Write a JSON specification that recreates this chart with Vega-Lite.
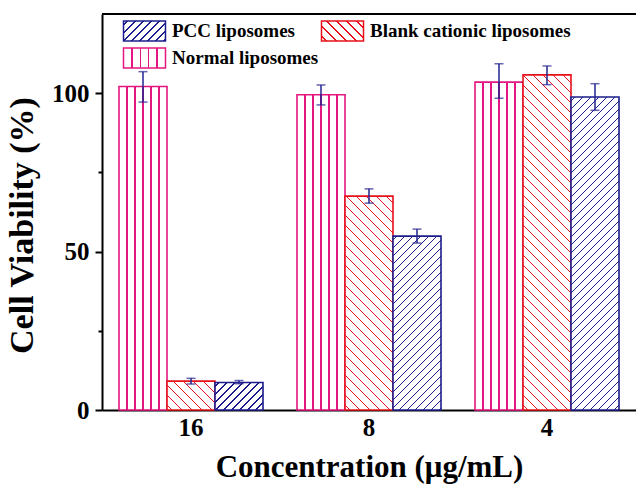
{
"$schema":"https://vega.github.io/schema/vega-lite/v6.json",
"width":534,"height":396,
"autosize":{"type":"none"},
"padding":{"left":102,"top":14,"right":0,"bottom":77},
"background":"white",
"config":{"view":{"stroke":null},"font":"Liberation Serif"},
"params":[
{"name":"redStops","value":[{"offset":0,"color":"#fff"},
{"offset":0.0102,"color":"#fff"},{"offset":0.0102,"color":"#e8101a"},{"offset":0.0148,"color":"#e8101a"},{"offset":0.0148,"color":"#fff"},
{"offset":0.0352,"color":"#fff"},{"offset":0.0352,"color":"#e8101a"},{"offset":0.0398,"color":"#e8101a"},{"offset":0.0398,"color":"#fff"},
{"offset":0.0602,"color":"#fff"},{"offset":0.0602,"color":"#e8101a"},{"offset":0.0648,"color":"#e8101a"},{"offset":0.0648,"color":"#fff"},
{"offset":0.0852,"color":"#fff"},{"offset":0.0852,"color":"#e8101a"},{"offset":0.0898,"color":"#e8101a"},{"offset":0.0898,"color":"#fff"},
{"offset":0.1102,"color":"#fff"},{"offset":0.1102,"color":"#e8101a"},{"offset":0.1148,"color":"#e8101a"},{"offset":0.1148,"color":"#fff"},
{"offset":0.1352,"color":"#fff"},{"offset":0.1352,"color":"#e8101a"},{"offset":0.1398,"color":"#e8101a"},{"offset":0.1398,"color":"#fff"},
{"offset":0.1602,"color":"#fff"},{"offset":0.1602,"color":"#e8101a"},{"offset":0.1648,"color":"#e8101a"},{"offset":0.1648,"color":"#fff"},
{"offset":0.1852,"color":"#fff"},{"offset":0.1852,"color":"#e8101a"},{"offset":0.1898,"color":"#e8101a"},{"offset":0.1898,"color":"#fff"},
{"offset":0.2102,"color":"#fff"},{"offset":0.2102,"color":"#e8101a"},{"offset":0.2148,"color":"#e8101a"},{"offset":0.2148,"color":"#fff"},
{"offset":0.2352,"color":"#fff"},{"offset":0.2352,"color":"#e8101a"},{"offset":0.2398,"color":"#e8101a"},{"offset":0.2398,"color":"#fff"},
{"offset":0.2602,"color":"#fff"},{"offset":0.2602,"color":"#e8101a"},{"offset":0.2648,"color":"#e8101a"},{"offset":0.2648,"color":"#fff"},
{"offset":0.2852,"color":"#fff"},{"offset":0.2852,"color":"#e8101a"},{"offset":0.2898,"color":"#e8101a"},{"offset":0.2898,"color":"#fff"},
{"offset":0.3102,"color":"#fff"},{"offset":0.3102,"color":"#e8101a"},{"offset":0.3148,"color":"#e8101a"},{"offset":0.3148,"color":"#fff"},
{"offset":0.3352,"color":"#fff"},{"offset":0.3352,"color":"#e8101a"},{"offset":0.3398,"color":"#e8101a"},{"offset":0.3398,"color":"#fff"},
{"offset":0.3602,"color":"#fff"},{"offset":0.3602,"color":"#e8101a"},{"offset":0.3648,"color":"#e8101a"},{"offset":0.3648,"color":"#fff"},
{"offset":0.3852,"color":"#fff"},{"offset":0.3852,"color":"#e8101a"},{"offset":0.3898,"color":"#e8101a"},{"offset":0.3898,"color":"#fff"},
{"offset":0.4102,"color":"#fff"},{"offset":0.4102,"color":"#e8101a"},{"offset":0.4148,"color":"#e8101a"},{"offset":0.4148,"color":"#fff"},
{"offset":0.4352,"color":"#fff"},{"offset":0.4352,"color":"#e8101a"},{"offset":0.4398,"color":"#e8101a"},{"offset":0.4398,"color":"#fff"},
{"offset":0.4602,"color":"#fff"},{"offset":0.4602,"color":"#e8101a"},{"offset":0.4648,"color":"#e8101a"},{"offset":0.4648,"color":"#fff"},
{"offset":0.4852,"color":"#fff"},{"offset":0.4852,"color":"#e8101a"},{"offset":0.4898,"color":"#e8101a"},{"offset":0.4898,"color":"#fff"},
{"offset":0.5102,"color":"#fff"},{"offset":0.5102,"color":"#e8101a"},{"offset":0.5148,"color":"#e8101a"},{"offset":0.5148,"color":"#fff"},
{"offset":0.5352,"color":"#fff"},{"offset":0.5352,"color":"#e8101a"},{"offset":0.5398,"color":"#e8101a"},{"offset":0.5398,"color":"#fff"},
{"offset":0.5602,"color":"#fff"},{"offset":0.5602,"color":"#e8101a"},{"offset":0.5648,"color":"#e8101a"},{"offset":0.5648,"color":"#fff"},
{"offset":0.5852,"color":"#fff"},{"offset":0.5852,"color":"#e8101a"},{"offset":0.5898,"color":"#e8101a"},{"offset":0.5898,"color":"#fff"},
{"offset":0.6102,"color":"#fff"},{"offset":0.6102,"color":"#e8101a"},{"offset":0.6148,"color":"#e8101a"},{"offset":0.6148,"color":"#fff"},
{"offset":0.6352,"color":"#fff"},{"offset":0.6352,"color":"#e8101a"},{"offset":0.6398,"color":"#e8101a"},{"offset":0.6398,"color":"#fff"},
{"offset":0.6602,"color":"#fff"},{"offset":0.6602,"color":"#e8101a"},{"offset":0.6648,"color":"#e8101a"},{"offset":0.6648,"color":"#fff"},
{"offset":0.6852,"color":"#fff"},{"offset":0.6852,"color":"#e8101a"},{"offset":0.6898,"color":"#e8101a"},{"offset":0.6898,"color":"#fff"},
{"offset":0.7102,"color":"#fff"},{"offset":0.7102,"color":"#e8101a"},{"offset":0.7148,"color":"#e8101a"},{"offset":0.7148,"color":"#fff"},
{"offset":0.7352,"color":"#fff"},{"offset":0.7352,"color":"#e8101a"},{"offset":0.7398,"color":"#e8101a"},{"offset":0.7398,"color":"#fff"},
{"offset":0.7602,"color":"#fff"},{"offset":0.7602,"color":"#e8101a"},{"offset":0.7648,"color":"#e8101a"},{"offset":0.7648,"color":"#fff"},
{"offset":0.7852,"color":"#fff"},{"offset":0.7852,"color":"#e8101a"},{"offset":0.7898,"color":"#e8101a"},{"offset":0.7898,"color":"#fff"},
{"offset":0.8102,"color":"#fff"},{"offset":0.8102,"color":"#e8101a"},{"offset":0.8148,"color":"#e8101a"},{"offset":0.8148,"color":"#fff"},
{"offset":0.8352,"color":"#fff"},{"offset":0.8352,"color":"#e8101a"},{"offset":0.8398,"color":"#e8101a"},{"offset":0.8398,"color":"#fff"},
{"offset":0.8602,"color":"#fff"},{"offset":0.8602,"color":"#e8101a"},{"offset":0.8648,"color":"#e8101a"},{"offset":0.8648,"color":"#fff"},
{"offset":0.8852,"color":"#fff"},{"offset":0.8852,"color":"#e8101a"},{"offset":0.8898,"color":"#e8101a"},{"offset":0.8898,"color":"#fff"},
{"offset":0.9102,"color":"#fff"},{"offset":0.9102,"color":"#e8101a"},{"offset":0.9148,"color":"#e8101a"},{"offset":0.9148,"color":"#fff"},
{"offset":0.9352,"color":"#fff"},{"offset":0.9352,"color":"#e8101a"},{"offset":0.9398,"color":"#e8101a"},{"offset":0.9398,"color":"#fff"},
{"offset":0.9602,"color":"#fff"},{"offset":0.9602,"color":"#e8101a"},{"offset":0.9648,"color":"#e8101a"},{"offset":0.9648,"color":"#fff"},
{"offset":0.9852,"color":"#fff"},{"offset":0.9852,"color":"#e8101a"},{"offset":0.9898,"color":"#e8101a"},{"offset":0.9898,"color":"#fff"},
{"offset":1,"color":"#fff"}]},
{"name":"blueStops","value":[{"offset":0,"color":"#fff"},
{"offset":0.0077,"color":"#fff"},{"offset":0.0077,"color":"#1c1c8c"},{"offset":0.0123,"color":"#1c1c8c"},{"offset":0.0123,"color":"#fff"},
{"offset":0.0277,"color":"#fff"},{"offset":0.0277,"color":"#1c1c8c"},{"offset":0.0323,"color":"#1c1c8c"},{"offset":0.0323,"color":"#fff"},
{"offset":0.0477,"color":"#fff"},{"offset":0.0477,"color":"#1c1c8c"},{"offset":0.0523,"color":"#1c1c8c"},{"offset":0.0523,"color":"#fff"},
{"offset":0.0677,"color":"#fff"},{"offset":0.0677,"color":"#1c1c8c"},{"offset":0.0723,"color":"#1c1c8c"},{"offset":0.0723,"color":"#fff"},
{"offset":0.0877,"color":"#fff"},{"offset":0.0877,"color":"#1c1c8c"},{"offset":0.0923,"color":"#1c1c8c"},{"offset":0.0923,"color":"#fff"},
{"offset":0.1077,"color":"#fff"},{"offset":0.1077,"color":"#1c1c8c"},{"offset":0.1123,"color":"#1c1c8c"},{"offset":0.1123,"color":"#fff"},
{"offset":0.1277,"color":"#fff"},{"offset":0.1277,"color":"#1c1c8c"},{"offset":0.1323,"color":"#1c1c8c"},{"offset":0.1323,"color":"#fff"},
{"offset":0.1477,"color":"#fff"},{"offset":0.1477,"color":"#1c1c8c"},{"offset":0.1523,"color":"#1c1c8c"},{"offset":0.1523,"color":"#fff"},
{"offset":0.1677,"color":"#fff"},{"offset":0.1677,"color":"#1c1c8c"},{"offset":0.1723,"color":"#1c1c8c"},{"offset":0.1723,"color":"#fff"},
{"offset":0.1877,"color":"#fff"},{"offset":0.1877,"color":"#1c1c8c"},{"offset":0.1923,"color":"#1c1c8c"},{"offset":0.1923,"color":"#fff"},
{"offset":0.2077,"color":"#fff"},{"offset":0.2077,"color":"#1c1c8c"},{"offset":0.2123,"color":"#1c1c8c"},{"offset":0.2123,"color":"#fff"},
{"offset":0.2277,"color":"#fff"},{"offset":0.2277,"color":"#1c1c8c"},{"offset":0.2323,"color":"#1c1c8c"},{"offset":0.2323,"color":"#fff"},
{"offset":0.2477,"color":"#fff"},{"offset":0.2477,"color":"#1c1c8c"},{"offset":0.2523,"color":"#1c1c8c"},{"offset":0.2523,"color":"#fff"},
{"offset":0.2677,"color":"#fff"},{"offset":0.2677,"color":"#1c1c8c"},{"offset":0.2723,"color":"#1c1c8c"},{"offset":0.2723,"color":"#fff"},
{"offset":0.2877,"color":"#fff"},{"offset":0.2877,"color":"#1c1c8c"},{"offset":0.2923,"color":"#1c1c8c"},{"offset":0.2923,"color":"#fff"},
{"offset":0.3077,"color":"#fff"},{"offset":0.3077,"color":"#1c1c8c"},{"offset":0.3123,"color":"#1c1c8c"},{"offset":0.3123,"color":"#fff"},
{"offset":0.3277,"color":"#fff"},{"offset":0.3277,"color":"#1c1c8c"},{"offset":0.3323,"color":"#1c1c8c"},{"offset":0.3323,"color":"#fff"},
{"offset":0.3477,"color":"#fff"},{"offset":0.3477,"color":"#1c1c8c"},{"offset":0.3523,"color":"#1c1c8c"},{"offset":0.3523,"color":"#fff"},
{"offset":0.3677,"color":"#fff"},{"offset":0.3677,"color":"#1c1c8c"},{"offset":0.3723,"color":"#1c1c8c"},{"offset":0.3723,"color":"#fff"},
{"offset":0.3877,"color":"#fff"},{"offset":0.3877,"color":"#1c1c8c"},{"offset":0.3923,"color":"#1c1c8c"},{"offset":0.3923,"color":"#fff"},
{"offset":0.4077,"color":"#fff"},{"offset":0.4077,"color":"#1c1c8c"},{"offset":0.4123,"color":"#1c1c8c"},{"offset":0.4123,"color":"#fff"},
{"offset":0.4277,"color":"#fff"},{"offset":0.4277,"color":"#1c1c8c"},{"offset":0.4323,"color":"#1c1c8c"},{"offset":0.4323,"color":"#fff"},
{"offset":0.4477,"color":"#fff"},{"offset":0.4477,"color":"#1c1c8c"},{"offset":0.4523,"color":"#1c1c8c"},{"offset":0.4523,"color":"#fff"},
{"offset":0.4677,"color":"#fff"},{"offset":0.4677,"color":"#1c1c8c"},{"offset":0.4723,"color":"#1c1c8c"},{"offset":0.4723,"color":"#fff"},
{"offset":0.4877,"color":"#fff"},{"offset":0.4877,"color":"#1c1c8c"},{"offset":0.4923,"color":"#1c1c8c"},{"offset":0.4923,"color":"#fff"},
{"offset":0.5077,"color":"#fff"},{"offset":0.5077,"color":"#1c1c8c"},{"offset":0.5123,"color":"#1c1c8c"},{"offset":0.5123,"color":"#fff"},
{"offset":0.5277,"color":"#fff"},{"offset":0.5277,"color":"#1c1c8c"},{"offset":0.5323,"color":"#1c1c8c"},{"offset":0.5323,"color":"#fff"},
{"offset":0.5477,"color":"#fff"},{"offset":0.5477,"color":"#1c1c8c"},{"offset":0.5523,"color":"#1c1c8c"},{"offset":0.5523,"color":"#fff"},
{"offset":0.5677,"color":"#fff"},{"offset":0.5677,"color":"#1c1c8c"},{"offset":0.5723,"color":"#1c1c8c"},{"offset":0.5723,"color":"#fff"},
{"offset":0.5877,"color":"#fff"},{"offset":0.5877,"color":"#1c1c8c"},{"offset":0.5923,"color":"#1c1c8c"},{"offset":0.5923,"color":"#fff"},
{"offset":0.6077,"color":"#fff"},{"offset":0.6077,"color":"#1c1c8c"},{"offset":0.6123,"color":"#1c1c8c"},{"offset":0.6123,"color":"#fff"},
{"offset":0.6277,"color":"#fff"},{"offset":0.6277,"color":"#1c1c8c"},{"offset":0.6323,"color":"#1c1c8c"},{"offset":0.6323,"color":"#fff"},
{"offset":0.6477,"color":"#fff"},{"offset":0.6477,"color":"#1c1c8c"},{"offset":0.6523,"color":"#1c1c8c"},{"offset":0.6523,"color":"#fff"},
{"offset":0.6677,"color":"#fff"},{"offset":0.6677,"color":"#1c1c8c"},{"offset":0.6723,"color":"#1c1c8c"},{"offset":0.6723,"color":"#fff"},
{"offset":0.6877,"color":"#fff"},{"offset":0.6877,"color":"#1c1c8c"},{"offset":0.6923,"color":"#1c1c8c"},{"offset":0.6923,"color":"#fff"},
{"offset":0.7077,"color":"#fff"},{"offset":0.7077,"color":"#1c1c8c"},{"offset":0.7123,"color":"#1c1c8c"},{"offset":0.7123,"color":"#fff"},
{"offset":0.7277,"color":"#fff"},{"offset":0.7277,"color":"#1c1c8c"},{"offset":0.7323,"color":"#1c1c8c"},{"offset":0.7323,"color":"#fff"},
{"offset":0.7477,"color":"#fff"},{"offset":0.7477,"color":"#1c1c8c"},{"offset":0.7523,"color":"#1c1c8c"},{"offset":0.7523,"color":"#fff"},
{"offset":0.7677,"color":"#fff"},{"offset":0.7677,"color":"#1c1c8c"},{"offset":0.7723,"color":"#1c1c8c"},{"offset":0.7723,"color":"#fff"},
{"offset":0.7877,"color":"#fff"},{"offset":0.7877,"color":"#1c1c8c"},{"offset":0.7923,"color":"#1c1c8c"},{"offset":0.7923,"color":"#fff"},
{"offset":0.8077,"color":"#fff"},{"offset":0.8077,"color":"#1c1c8c"},{"offset":0.8123,"color":"#1c1c8c"},{"offset":0.8123,"color":"#fff"},
{"offset":0.8277,"color":"#fff"},{"offset":0.8277,"color":"#1c1c8c"},{"offset":0.8323,"color":"#1c1c8c"},{"offset":0.8323,"color":"#fff"},
{"offset":0.8477,"color":"#fff"},{"offset":0.8477,"color":"#1c1c8c"},{"offset":0.8523,"color":"#1c1c8c"},{"offset":0.8523,"color":"#fff"},
{"offset":0.8677,"color":"#fff"},{"offset":0.8677,"color":"#1c1c8c"},{"offset":0.8723,"color":"#1c1c8c"},{"offset":0.8723,"color":"#fff"},
{"offset":0.8877,"color":"#fff"},{"offset":0.8877,"color":"#1c1c8c"},{"offset":0.8923,"color":"#1c1c8c"},{"offset":0.8923,"color":"#fff"},
{"offset":0.9077,"color":"#fff"},{"offset":0.9077,"color":"#1c1c8c"},{"offset":0.9123,"color":"#1c1c8c"},{"offset":0.9123,"color":"#fff"},
{"offset":0.9277,"color":"#fff"},{"offset":0.9277,"color":"#1c1c8c"},{"offset":0.9323,"color":"#1c1c8c"},{"offset":0.9323,"color":"#fff"},
{"offset":0.9477,"color":"#fff"},{"offset":0.9477,"color":"#1c1c8c"},{"offset":0.9523,"color":"#1c1c8c"},{"offset":0.9523,"color":"#fff"},
{"offset":0.9677,"color":"#fff"},{"offset":0.9677,"color":"#1c1c8c"},{"offset":0.9723,"color":"#1c1c8c"},{"offset":0.9723,"color":"#fff"},
{"offset":0.9877,"color":"#fff"},{"offset":0.9877,"color":"#1c1c8c"},{"offset":0.9923,"color":"#1c1c8c"},{"offset":0.9923,"color":"#fff"},
{"offset":1,"color":"#fff"}]},
{"name":"pinkStops","value":[{"offset":0,"color":"#fff"},
{"offset":0.1497,"color":"#fff"},{"offset":0.1497,"color":"#e3177f"},{"offset":0.1837,"color":"#e3177f"},{"offset":0.1837,"color":"#fff"},
{"offset":0.3163,"color":"#fff"},{"offset":0.3163,"color":"#e3177f"},{"offset":0.3503,"color":"#e3177f"},{"offset":0.3503,"color":"#fff"},
{"offset":0.483,"color":"#fff"},{"offset":0.483,"color":"#e3177f"},{"offset":0.517,"color":"#e3177f"},{"offset":0.517,"color":"#fff"},
{"offset":0.6497,"color":"#fff"},{"offset":0.6497,"color":"#e3177f"},{"offset":0.6837,"color":"#e3177f"},{"offset":0.6837,"color":"#fff"},
{"offset":0.8163,"color":"#fff"},{"offset":0.8163,"color":"#e3177f"},{"offset":0.8503,"color":"#e3177f"},{"offset":0.8503,"color":"#fff"},
{"offset":1,"color":"#fff"}]},
{"name":"pinkLegendStops","value":[{"offset":0,"color":"#fff"},
{"offset":0.182,"color":"#fff"},{"offset":0.182,"color":"#e3177f"},{"offset":0.218,"color":"#e3177f"},{"offset":0.218,"color":"#fff"},
{"offset":0.382,"color":"#fff"},{"offset":0.382,"color":"#e3177f"},{"offset":0.418,"color":"#e3177f"},{"offset":0.418,"color":"#fff"},
{"offset":0.582,"color":"#fff"},{"offset":0.582,"color":"#e3177f"},{"offset":0.618,"color":"#e3177f"},{"offset":0.618,"color":"#fff"},
{"offset":0.782,"color":"#fff"},{"offset":0.782,"color":"#e3177f"},{"offset":0.818,"color":"#e3177f"},{"offset":0.818,"color":"#fff"},
{"offset":1,"color":"#fff"}]}
],
"data":{"values":[
{"conc":"16","series":"Normal liposomes","value":102.1,"lo":97.2,"hi":106.8},
{"conc":"16","series":"Blank cationic liposomes","value":9.1,"lo":8.2,"hi":10.0},
{"conc":"16","series":"PCC liposomes","value":8.7,"lo":8.3,"hi":9.3},
{"conc":"8","series":"Normal liposomes","value":99.5,"lo":96.3,"hi":102.6},
{"conc":"8","series":"Blank cationic liposomes","value":67.5,"lo":65.3,"hi":69.8},
{"conc":"8","series":"PCC liposomes","value":54.9,"lo":52.7,"hi":57.1},
{"conc":"4","series":"Normal liposomes","value":103.5,"lo":98.4,"hi":109.3},
{"conc":"4","series":"Blank cationic liposomes","value":105.8,"lo":102.7,"hi":108.6},
{"conc":"4","series":"PCC liposomes","value":98.8,"lo":94.6,"hi":103.0}
]},
"layer":[
{"mark":{"type":"bar","strokeWidth":1.6,
"fill":{"expr":"datum.series ? (datum.series == 'PCC liposomes' ? {gradient:'linear',x1:0,y1:0,x2:400*bandwidth('xOffset')/(pow(bandwidth('xOffset'),2)+pow(scale('y',0)-scale('y',datum.value),2)),y2:400*(scale('y',0)-scale('y',datum.value))/(pow(bandwidth('xOffset'),2)+pow(scale('y',0)-scale('y',datum.value),2)),stops:blueStops} : datum.series == 'Blank cationic liposomes' ? {gradient:'linear',x1:0,y1:1,x2:400*bandwidth('xOffset')/(pow(bandwidth('xOffset'),2)+pow(scale('y',0)-scale('y',datum.value),2)),y2:1-400*(scale('y',0)-scale('y',datum.value))/(pow(bandwidth('xOffset'),2)+pow(scale('y',0)-scale('y',datum.value),2)),stops:redStops} : {gradient:'linear',x1:0,y1:0,x2:1,y2:0,stops:pinkStops}) : (datum.value == 'PCC liposomes' ? {gradient:'linear',x1:0,y1:0,x2:7.7634,y2:3.6969,stops:blueStops} : datum.value == 'Blank cationic liposomes' ? {gradient:'linear',x1:0,y1:1,x2:7.7634,y2:-2.6969,stops:redStops} : {gradient:'linear',x1:0,y1:0,x2:1,y2:0,stops:pinkLegendStops})"}},
"encoding":{
"x":{"field":"conc","type":"nominal","sort":["16","8","4"],"title":"Concentration (μg/mL)","scale":{"paddingInner":0.191,"paddingOuter":0.0955},
"axis":{"labelAngle":0,"ticks":false,"domainColor":"black","domainWidth":2,"labelFont":"Liberation Serif","labelFontSize":25,"labelFontWeight":"bold","labelColor":"black","labelPadding":5,"titleFont":"Liberation Serif","titleFontSize":31,"titleFontWeight":"bold","titleColor":"black","titlePadding":12,"grid":false}},
"xOffset":{"field":"series","type":"nominal","sort":["Normal liposomes","Blank cationic liposomes","PCC liposomes"],"scale":{"paddingInner":0,"paddingOuter":0}},
"y":{"field":"value","type":"quantitative","stack":null,"title":"Cell Viability (%)","scale":{"domain":[0,125],"nice":false},
"axis":{"values":[0,25,50,75,100],"labelExpr":"datum.value % 50 == 0 ? datum.label : ''","tickSize":{"condition":{"test":"datum.value % 50 != 0","value":4},"value":7},"tickWidth":2,"tickColor":"black","domainColor":"black","domainWidth":2,"labelFont":"Liberation Serif","labelFontSize":25,"labelFontWeight":"bold","labelColor":"black","labelPadding":6,"titleFont":"Liberation Serif","titleFontSize":34,"titleFontWeight":"bold","titleColor":"black","titlePadding":12,"titleY":211,"grid":false}},
"stroke":{"field":"series","type":"nominal","scale":{"domain":["PCC liposomes","Blank cationic liposomes","Normal liposomes"],"range":["#1c1c8c","#e8101a","#e3177f"]},
"legend":{"orient":"none","legendX":31.5,"legendY":6,"direction":"horizontal","columns":2,"title":null,"padding":0,"symbolType":"M-2.1,-1H2.1V1H-2.1Z","symbolSize":400,"symbolStrokeWidth":1.5,"labelFont":"Liberation Serif","labelFontWeight":"bold","labelFontSize":19,"labelColor":"black","labelOffset":16.5,"labelLimit":400,"columnPadding":0,"rowPadding":1}}
}},
{"mark":{"type":"rule","color":"#23238f","strokeWidth":1.5},
"encoding":{
"x":{"field":"conc","type":"nominal","sort":["16","8","4"],"title":"Concentration (μg/mL)"},
"xOffset":{"field":"series","type":"nominal","sort":["Normal liposomes","Blank cationic liposomes","PCC liposomes"]},
"y":{"field":"lo","type":"quantitative","title":"Cell Viability (%)","scale":{"domain":[0,125],"nice":false}},
"y2":{"field":"hi"}}},
{"mark":{"type":"tick","color":"#23238f","thickness":1.5,"size":9},
"encoding":{
"x":{"field":"conc","type":"nominal","sort":["16","8","4"],"title":"Concentration (μg/mL)"},
"xOffset":{"field":"series","type":"nominal","sort":["Normal liposomes","Blank cationic liposomes","PCC liposomes"]},
"y":{"field":"lo","type":"quantitative","title":"Cell Viability (%)","scale":{"domain":[0,125],"nice":false}}}},
{"mark":{"type":"tick","color":"#23238f","thickness":1.5,"size":9},
"encoding":{
"x":{"field":"conc","type":"nominal","sort":["16","8","4"],"title":"Concentration (μg/mL)"},
"xOffset":{"field":"series","type":"nominal","sort":["Normal liposomes","Blank cationic liposomes","PCC liposomes"]},
"y":{"field":"hi","type":"quantitative","title":"Cell Viability (%)","scale":{"domain":[0,125],"nice":false}}}},
{"data":{"values":[{}]},"mark":{"type":"rule","color":"black","strokeWidth":2},
"encoding":{"y":{"datum":125,"type":"quantitative","title":"Cell Viability (%)","scale":{"domain":[0,125],"nice":false}}}}
]
}
